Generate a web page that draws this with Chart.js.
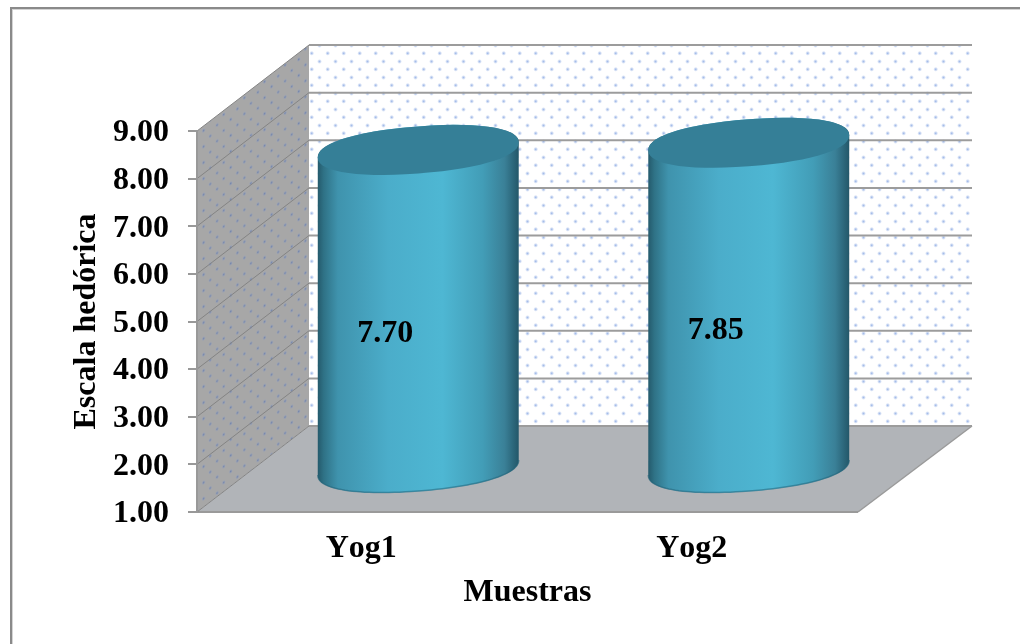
<!DOCTYPE html>
<html>
<head>
<meta charset="utf-8">
<style>html,body{margin:0;padding:0;background:#fff}canvas{display:block}</style>
<script src="https://cdn.jsdelivr.net/npm/chart.js@4/dist/chart.umd.js"></script>
</head>
<body>
<canvas id="chart" width="1020" height="644"></canvas>
<script>
const categories = ['Yog1', 'Yog2'];
const hedonicScores = [7.70, 7.85];
const axisMin = 1;
const axisMax = 9;
const axisStep = 1;
const yTitle = 'Escala hedórica';
const xTitle = 'Muestras';

const serif = '"Liberation Serif", "Times New Roman", serif';
const depth = { x: 112, y: -86 };           // front plane to back wall

// Tile of two staggered soft dots, used to fill both walls.
function dotTile(color, base) {
  const c = document.createElement('canvas');
  c.width = c.height = 16;
  const g = c.getContext('2d');
  if (base) { g.fillStyle = base; g.fillRect(0, 0, 16, 16); }
  const spots = [[7.7, 5.3], [15.5, 13.5], [-0.5, 13.5]];
  spots.forEach(([x, y]) => {
    const r = g.createRadialGradient(x, y, 0.3, x, y, 2.4);
    r.addColorStop(0, color);
    r.addColorStop(1, 'rgba(150,175,225,0)');
    g.fillStyle = r;
    g.fillRect(x - 3, y - 3, 6, 6);
  });
  return c;
}

function polygon(ctx, pts) {
  ctx.beginPath();
  pts.forEach(([x, y], i) => (i ? ctx.lineTo(x, y) : ctx.moveTo(x, y)));
  ctx.closePath();
}

// Walls, floor, gridlines and outer frame, behind the axes.
const roomPlugin = {
  id: 'room',
  beforeDraw(chart) {
    const { ctx, chartArea: a, scales: { y } } = chart;
    const dx = depth.x, dy = depth.y;
    ctx.fontKerning = 'none';
    ctx.save();

    // outer frame: top and left edges only
    ctx.fillStyle = '#d4d4d4';
    ctx.fillRect(12, 9, 1008, 1);
    ctx.fillRect(12, 9, 1, 635);
    ctx.fillStyle = '#8a8a8a';
    ctx.fillRect(10, 7, 1010, 2);
    ctx.fillRect(10, 7, 2, 637);

    // back wall
    polygon(ctx, [[a.left + dx, a.top + dy], [a.right + dx + 2, a.top + dy],
                  [a.right + dx + 2, a.bottom + dy], [a.left + dx, a.bottom + dy]]);
    ctx.fillStyle = ctx.createPattern(dotTile('rgba(125,160,225,0.7)', '#ffffff'), 'repeat');
    ctx.fill();

    // left wall
    polygon(ctx, [[a.left, a.top], [a.left + dx, a.top + dy],
                  [a.left + dx, a.bottom + dy], [a.left, a.bottom]]);
    ctx.fillStyle = '#a7a7a7';
    ctx.fill();
    const sideDots = ctx.createPattern(dotTile('rgba(85,110,170,0.65)'), 'repeat');
    sideDots.setTransform(new DOMMatrix([0.85, -0.35, 0, 1, a.left, 0]));
    ctx.fillStyle = sideDots;
    ctx.fill();

    // floor
    polygon(ctx, [[a.left, a.bottom], [a.right, a.bottom],
                  [a.right + dx + 2, a.bottom + dy], [a.left + dx, a.bottom + dy]]);
    ctx.fillStyle = '#b1b4b8';
    ctx.fill();
    ctx.strokeStyle = '#9a9a9a';
    ctx.lineWidth = 1.5;
    ctx.beginPath();
    ctx.moveTo(a.right, a.bottom);
    ctx.lineTo(a.right + dx + 2, a.bottom + dy);
    ctx.stroke();
    ctx.lineWidth = 2;
    ctx.beginPath();
    ctx.moveTo(a.left, a.bottom);
    ctx.lineTo(a.right, a.bottom);
    ctx.stroke();

    // gridlines running along the left wall and across the back wall
    y.ticks.forEach(t => {
      const py = y.getPixelForValue(t.value);
      ctx.strokeStyle = '#848484';
      ctx.lineWidth = 1;
      ctx.beginPath();
      ctx.moveTo(a.left, py);
      ctx.lineTo(a.left + dx, py + dy);
      ctx.stroke();
      ctx.strokeStyle = '#9c9c9c';
      ctx.lineWidth = 2;
      ctx.beginPath();
      ctx.moveTo(a.left + dx, py + dy);
      ctx.lineTo(a.right + dx + 2, py + dy);
      ctx.stroke();
    });
    ctx.restore();
  }
};

// Value labels, printed on the cylinders' faces.
const valueLabelPlugin = {
  id: 'valueLabels',
  afterDatasetsDraw(chart) {
    const { ctx } = chart;
    const meta = chart.getDatasetMeta(0);
    ctx.save();
    ctx.font = 'bold 32px ' + serif;
    ctx.fillStyle = '#000';
    ctx.textAlign = 'center';
    ctx.textBaseline = 'middle';
    meta.data.forEach((el, i) => {
      const mid = (el.y + el.base) / 2;
      ctx.fillText(hedonicScores[i].toFixed(2), el.x + 23, mid - 18);
    });
    ctx.restore();
  }
};

// Outline of a sheared, slightly squared ellipse between two parameter angles.
function rimTo(ctx, cx, cy, a, b, k, from, to) {
  const n = 2.2;
  const steps = 60;
  for (let i = 0; i <= steps; i++) {
    const t = from + (to - from) * i / steps;
    const c = Math.cos(t), s = Math.sin(t);
    const x = a * Math.sign(c) * Math.pow(Math.abs(c), 2 / n);
    const y = b * Math.sign(s) * Math.pow(Math.abs(s), 2 / n);
    ctx.lineTo(cx + x, cy + y + k * x);
  }
}

// Bar controller that paints each element as a sheared upright cylinder.
class CylinderController extends Chart.BarController {
  draw() {
    const ctx = this.chart.ctx;
    this.getMeta().data.forEach(el => {
      const cx = el.x + depth.x / 2;
      const a = el.width / 2;
      const b = 23.5;
      const k = -0.075;
      const top = el.y + depth.y / 2;
      const bottom = el.base + depth.y / 2;

      const side = ctx.createLinearGradient(cx - a, 0, cx + a, 0);
      side.addColorStop(0, '#245a6c');
      side.addColorStop(0.03, '#2f7286');
      side.addColorStop(0.1, '#3f93ad');
      side.addColorStop(0.35, '#4badca');
      side.addColorStop(0.62, '#4eb7d3');
      side.addColorStop(0.82, '#429db7');
      side.addColorStop(0.93, '#3a8097');
      side.addColorStop(1, '#235769');

      ctx.save();
      // side wall, closed by the lower half of the bottom rim
      ctx.beginPath();
      rimTo(ctx, cx, top, a, b, k, Math.PI, 2 * Math.PI);
      rimTo(ctx, cx, bottom, a, b, k, 0, Math.PI);
      ctx.closePath();
      ctx.fillStyle = side;
      ctx.fill();

      // darker lip along the bottom rim
      ctx.beginPath();
      rimTo(ctx, cx, bottom - 0.5, a, b, k, 0, Math.PI);
      ctx.strokeStyle = 'rgba(36,100,122,0.55)';
      ctx.lineWidth = 1.5;
      ctx.stroke();

      // top face
      ctx.beginPath();
      rimTo(ctx, cx, top, a, b, k, 0, 2 * Math.PI);
      ctx.closePath();
      ctx.fillStyle = '#357f97';
      ctx.fill();
      ctx.restore();
    });
  }
}
CylinderController.id = 'cylinder';
CylinderController.defaults = Chart.BarController.defaults;
CylinderController.overrides = Chart.BarController.overrides;
Chart.register(CylinderController);

new Chart(document.getElementById('chart'), {
  type: 'cylinder',
  data: {
    labels: categories,
    datasets: [{
      label: yTitle,
      data: hedonicScores,
      base: axisMin,
      backgroundColor: '#4aa9c7',
      categoryPercentage: 1,
      barPercentage: 0.608,
      clip: false
    }]
  },
  plugins: [roomPlugin, valueLabelPlugin],
  options: {
    responsive: false,
    animation: false,
    devicePixelRatio: 1,
    layout: { padding: { left: 0, right: 162, top: 131, bottom: 0 } },
    plugins: { legend: { display: false }, tooltip: { enabled: false } },
    scales: {
      x: {
        afterFit(s) { s.height = 132; },
        grid: { display: false, drawTicks: false },
        border: { display: false },
        ticks: {
          color: '#000',
          padding: 18,
          labelOffset: -1,
          maxRotation: 0,
          font: { family: serif, size: 32, weight: 'bold' }
        },
        title: {
          display: true,
          text: xTitle,
          color: '#000',
          padding: { top: 0, bottom: 32 },
          font: { family: serif, size: 32, weight: 'bold' }
        }
      },
      y: {
        min: axisMin,
        max: axisMax,
        afterFit(s) { s.width = 197; },
        grid: {
          drawOnChartArea: false,
          drawTicks: true,
          tickLength: 9,
          color: '#999',
          lineWidth: 2
        },
        border: { display: true, color: '#999', width: 2 },
        ticks: {
          stepSize: axisStep,
          autoSkip: false,
          color: '#000',
          padding: 19,
          labelOffset: 2,
          callback: v => v.toFixed(2),
          font: { family: serif, size: 32, weight: 'bold' }
        },
        title: {
          display: true,
          text: yTitle,
          color: '#000',
          padding: { top: 68, bottom: 0 },
          font: { family: serif, size: 32, weight: 'bold' }
        }
      }
    }
  }
});
</script>
</body>
</html>
